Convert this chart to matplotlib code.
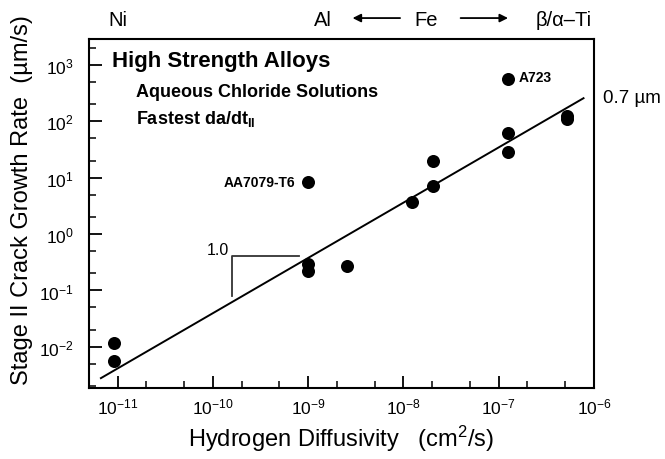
import matplotlib
matplotlib.use("Agg")
import matplotlib.pyplot as plt
from matplotlib.ticker import LogLocator, NullFormatter

plt.rcParams['font.family'] = ['Liberation Sans', 'DejaVu Sans']
plt.rcParams['mathtext.fontset'] = 'custom'
plt.rcParams['mathtext.rm'] = 'Liberation Sans'
plt.rcParams['mathtext.it'] = 'Liberation Sans:italic'
plt.rcParams['mathtext.bf'] = 'Liberation Sans:bold'

# ---- data ----
diffusivity = [9.2e-12, 9.2e-12, 1.0e-9, 1.0e-9, 1.0e-9, 2.55e-9, 1.22e-8,
               2.02e-8, 2.02e-8, 1.24e-7, 1.24e-7, 1.24e-7, 5.2e-7, 5.2e-7]
crack_rate = [0.0118, 0.0057, 8.5, 0.29, 0.22, 0.27, 3.7,
              7.2, 20.0, 563.0, 62.0, 29.0, 125.0, 110.0]
fit_D = [10**-11.175, 10**-6.11]
fit_rate = [10**-2.555, 10**2.41]
slope_D = [10**-9.804, 10**-9.804, 10**-9.101]
slope_rate = [10**-1.09, 10**-0.381, 10**-0.381]
top_labels = ["Ni", "Al", "Fe", "β/α–Ti"]
top_label_D = [10**-11.0, 10**-8.846, 10**-7.765, 10**-6.316]

fig = plt.figure(figsize=(6.65, 4.6), dpi=100)
ax = fig.add_axes([89/665, 1-389/460, (594-89)/665, (389-40)/460])

ax.set_xscale('log')
ax.set_yscale('log')
ax.set_xlim(10**-11.3, 1e-6)
ax.set_ylim(10**-2.73, 10**3.46)

ax.plot(fit_D, fit_rate, color='black', lw=1.4, zorder=2)
ax.plot(slope_D, slope_rate, color='#333333', lw=1.3, zorder=2)
ax.scatter(diffusivity, crack_rate, s=88, color='black', zorder=3, linewidths=0)

ax.xaxis.set_major_locator(LogLocator(base=10, numticks=20))
ax.yaxis.set_major_locator(LogLocator(base=10, numticks=20))
ax.xaxis.set_minor_locator(LogLocator(base=10, subs=(2.0, 5.0), numticks=20))
ax.yaxis.set_minor_locator(LogLocator(base=10, subs=(2.0, 5.0), numticks=20))
ax.xaxis.set_minor_formatter(NullFormatter())
ax.yaxis.set_minor_formatter(NullFormatter())
ax.tick_params(which='major', direction='in', length=9, width=1.3, labelsize=12.5,
               top=False, right=False)
ax.tick_params(which='minor', direction='in', length=5, width=1.1, top=False, right=False)
ax.tick_params(axis='y', which='major', pad=11)
ax.tick_params(axis='x', which='major', pad=6)
for sp in ax.spines.values():
    sp.set_linewidth(1.5)

ax.set_xlabel("Hydrogen Diffusivity   (cm$^2$/s)", fontsize=17)
ax.xaxis.set_label_coords(0.5, -0.10)
ax.set_ylabel("Stage II Crack Growth Rate  (µm/s)", fontsize=17)
ax.yaxis.set_label_coords(-0.11, 0.54)

ax.text(0.0455, 0.937, "High Strength Alloys", transform=ax.transAxes, fontsize=16,
        fontweight='bold', va='center', ha='left')
ax.text(0.093, 0.851, "Aqueous Chloride Solutions", transform=ax.transAxes, fontsize=13,
        fontweight='bold', va='center', ha='left')
ax.text(0.093, 0.774, "Fastest da/dt$_{\\mathbf{II}}$", transform=ax.transAxes, fontsize=13,
        fontweight='bold', va='center', ha='left')
ax.text(10**-9.13, 8.5, "AA7079-T6", fontsize=10, fontweight='bold', va='center', ha='right')
ax.text(10**-6.79, 600, "A723", fontsize=10, fontweight='bold', va='center', ha='left')
ax.text(10**-9.83, 10**-0.28, "1.0", fontsize=11.5, va='center', ha='right')
ax.text(1.018, 10**2.42, "0.7 µm", transform=ax.get_yaxis_transform(), fontsize=13.5,
        va='center', ha='left')

xt = ax.get_xaxis_transform()
for lab, xd in zip(top_labels, top_label_D):
    ax.text(xd, 1.04, lab, transform=xt, fontsize=14.5, ha='center', va='baseline')
ax.annotate("", xy=(10**-8.563, 1.06), xytext=(10**-8.006, 1.06), xycoords=xt,
            textcoords=xt, arrowprops=dict(arrowstyle='-|>', color='black', lw=1.3,
                                           mutation_scale=12))
ax.annotate("", xy=(10**-6.873, 1.06), xytext=(10**-7.429, 1.06), xycoords=xt,
            textcoords=xt, arrowprops=dict(arrowstyle='-|>', color='black', lw=1.3,
                                           mutation_scale=12))

fig.savefig("out.png", dpi=100)
